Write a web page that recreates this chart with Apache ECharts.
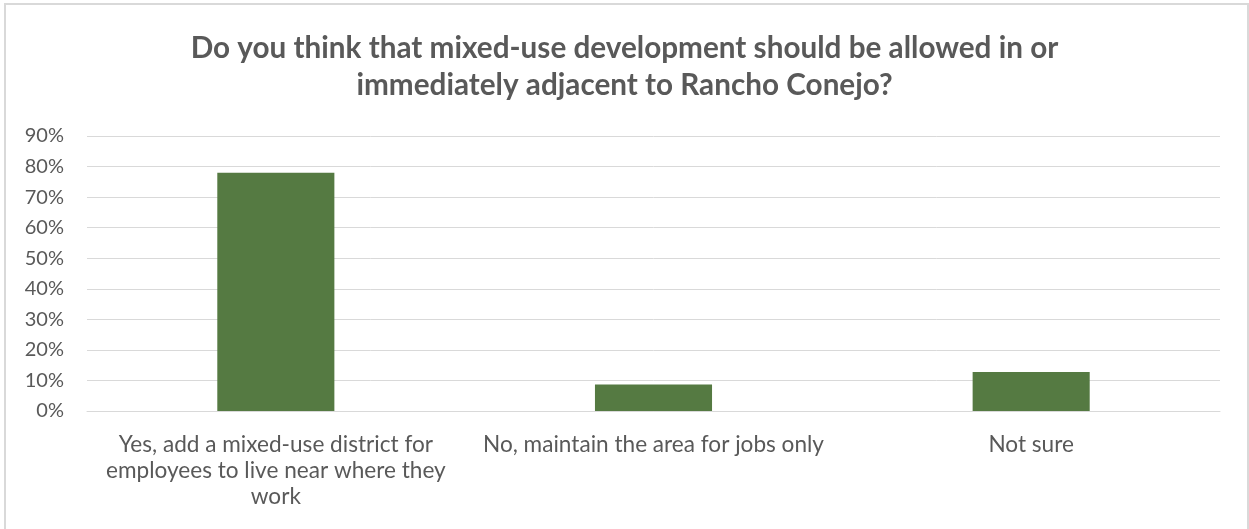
<!DOCTYPE html>
<html>
<head>
<meta charset="utf-8">
<script src="https://cdn.jsdelivr.net/npm/echarts@6/dist/echarts.min.js"></script>
<style>
  html, body { margin: 0; padding: 0; background: #ffffff; }
  #chart { width: 1249px; height: 529px; }
</style>
</head>
<body>
<div id="chart"></div>
<script>
// Survey answers and their share of responses
const categories = [
  'Yes, add a mixed-use district for\nemployees to live near where they\nwork',
  'No, maintain the area for jobs only',
  'Not sure'
];
const shares = [0.78, 0.087, 0.128];
const titleText = 'Do you think that mixed-use development should be allowed in or\nimmediately adjacent to Rancho Conejo?';

const textFont = 'Lato, "Open Sans", sans-serif';
const grey = '#595959';

const chart = echarts.init(document.getElementById('chart'), null, { renderer: 'canvas' });
chart.setOption({
  animation: false,
  backgroundColor: '#ffffff',
  graphic: [{
    type: 'rect',
    shape: { x: 5, y: 4, width: 1243, height: 560 },
    style: { fill: 'none', stroke: '#d9d9d9', lineWidth: 2 },
    silent: true
  }],
  title: {
    text: titleText,
    left: 'center',
    top: 25,
    textStyle: {
      fontFamily: textFont,
      fontWeight: 'bold',
      fontSize: 29.7,
      lineHeight: 37,
      color: grey
    }
  },
  grid: { left: 87, right: 29, top: 136, bottom: 118, containLabel: false },
  xAxis: {
    type: 'category',
    data: categories,
    axisLine: { lineStyle: { color: '#d9d9d9', width: 1 } },
    axisTick: { show: false },
    axisLabel: {
      interval: 0,
      margin: 21,
      fontFamily: textFont,
      fontSize: 22.6,
      lineHeight: 26,
      color: grey,
      align: 'center'
    }
  },
  yAxis: {
    type: 'value',
    min: 0,
    max: 0.9,
    interval: 0.1,
    axisLine: { show: false },
    axisTick: { show: false },
    splitLine: { lineStyle: { color: '#d9d9d9', width: 1 } },
    axisLabel: {
      margin: 23,
      fontFamily: textFont,
      fontSize: 20,
      color: grey,
      formatter: v => Math.round(v * 100) + '%'
    }
  },
  series: [{
    type: 'bar',
    data: shares,
    barWidth: '31%',
    itemStyle: { color: '#557a42' }
  }]
});
</script>
</body>
</html>
